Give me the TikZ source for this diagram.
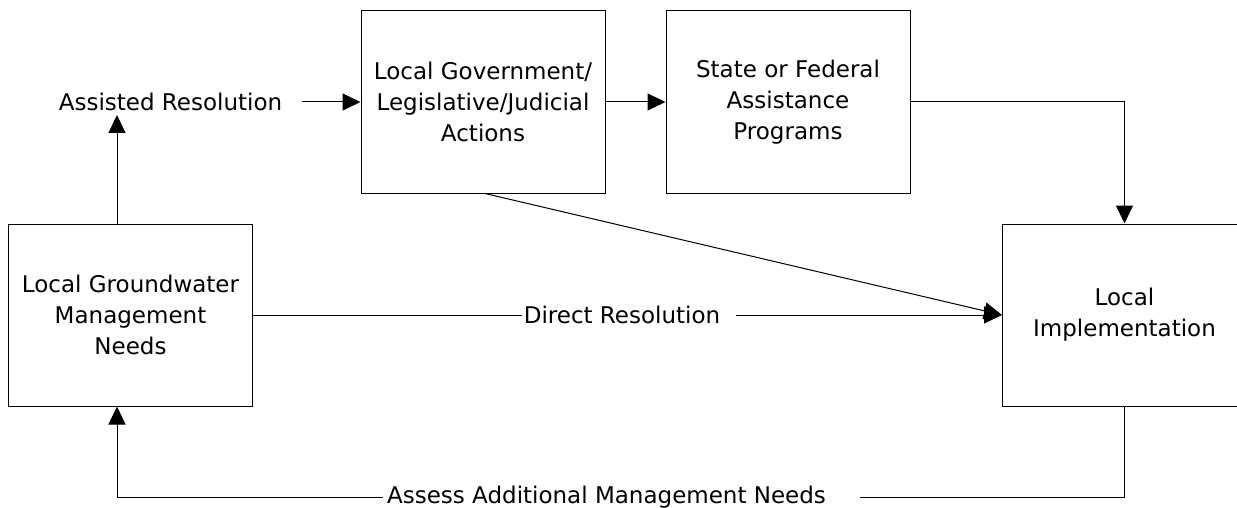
\documentclass[tikz,border=0pt]{standalone}
\usepackage{fontspec}
\setmainfont{DejaVu Sans}
\usetikzlibrary{arrows.meta}
\begin{document}
\begin{tikzpicture}[x=1pt,y=-1pt,
  every node/.style={font=\fontsize{23}{31}\selectfont},
  boxnode/.style={draw, line width=1pt, minimum width=244pt, minimum height=182pt, align=center, inner sep=0pt},
  lbl/.style={inner sep=0pt},
  conn/.style={line width=1pt},
  arr/.style={conn, -{Triangle[length=18pt,width=17pt]}}]
\useasboundingbox (0,0) rectangle (1237,508);
\clip (0,0) rectangle (1237,508);
\fill[white] (0,0) rectangle (1237,508);
% boxes
\node[boxnode] (gw) at (130.5,315) {Local Groundwater\\Management\\Needs};
\node[boxnode] (gov) at (483,102) {Local Government/\\Legislative/Judicial\\Actions};
\node[boxnode] (state) at (788,102) {State or Federal\\Assistance\\Programs};
\node[boxnode] (impl) at (1124.5,315) {Local\\Implementation};
% labels
\node[lbl] (ar) at (170.5,102) {Assisted Resolution};
\node[lbl] (dr) at (622,315) {Direct Resolution};
\node[lbl, anchor=base] (as) at (606.5,503) {Assess Additional Management Needs};
% free ends
\coordinate (tipA) at (117,115);
\coordinate (arS) at (302,102);
\coordinate (asR) at (860,497);
\coordinate (asL) at (383,497);
% connectors
\draw[arr] (gw.north -| tipA) -- (tipA);
\draw[arr] (arS) -- (gov.west);
\draw[arr] (gov.east) -- (state.west);
\draw[arr] (state.east) -| (impl.north);
\draw[arr] ([xshift=2pt]gov.south) -- (impl.west);
\draw[conn] (gw.east) -- (dr.west -| gw.east) -- ([xshift=-2pt]dr.west);
\draw[arr] ([xshift=16pt]dr.east) -- (impl.west);
\draw[conn] (impl.south) |- (asR);
\draw[arr] (asL) -| (gw.south -| tipA);
\end{tikzpicture}
\end{document}
